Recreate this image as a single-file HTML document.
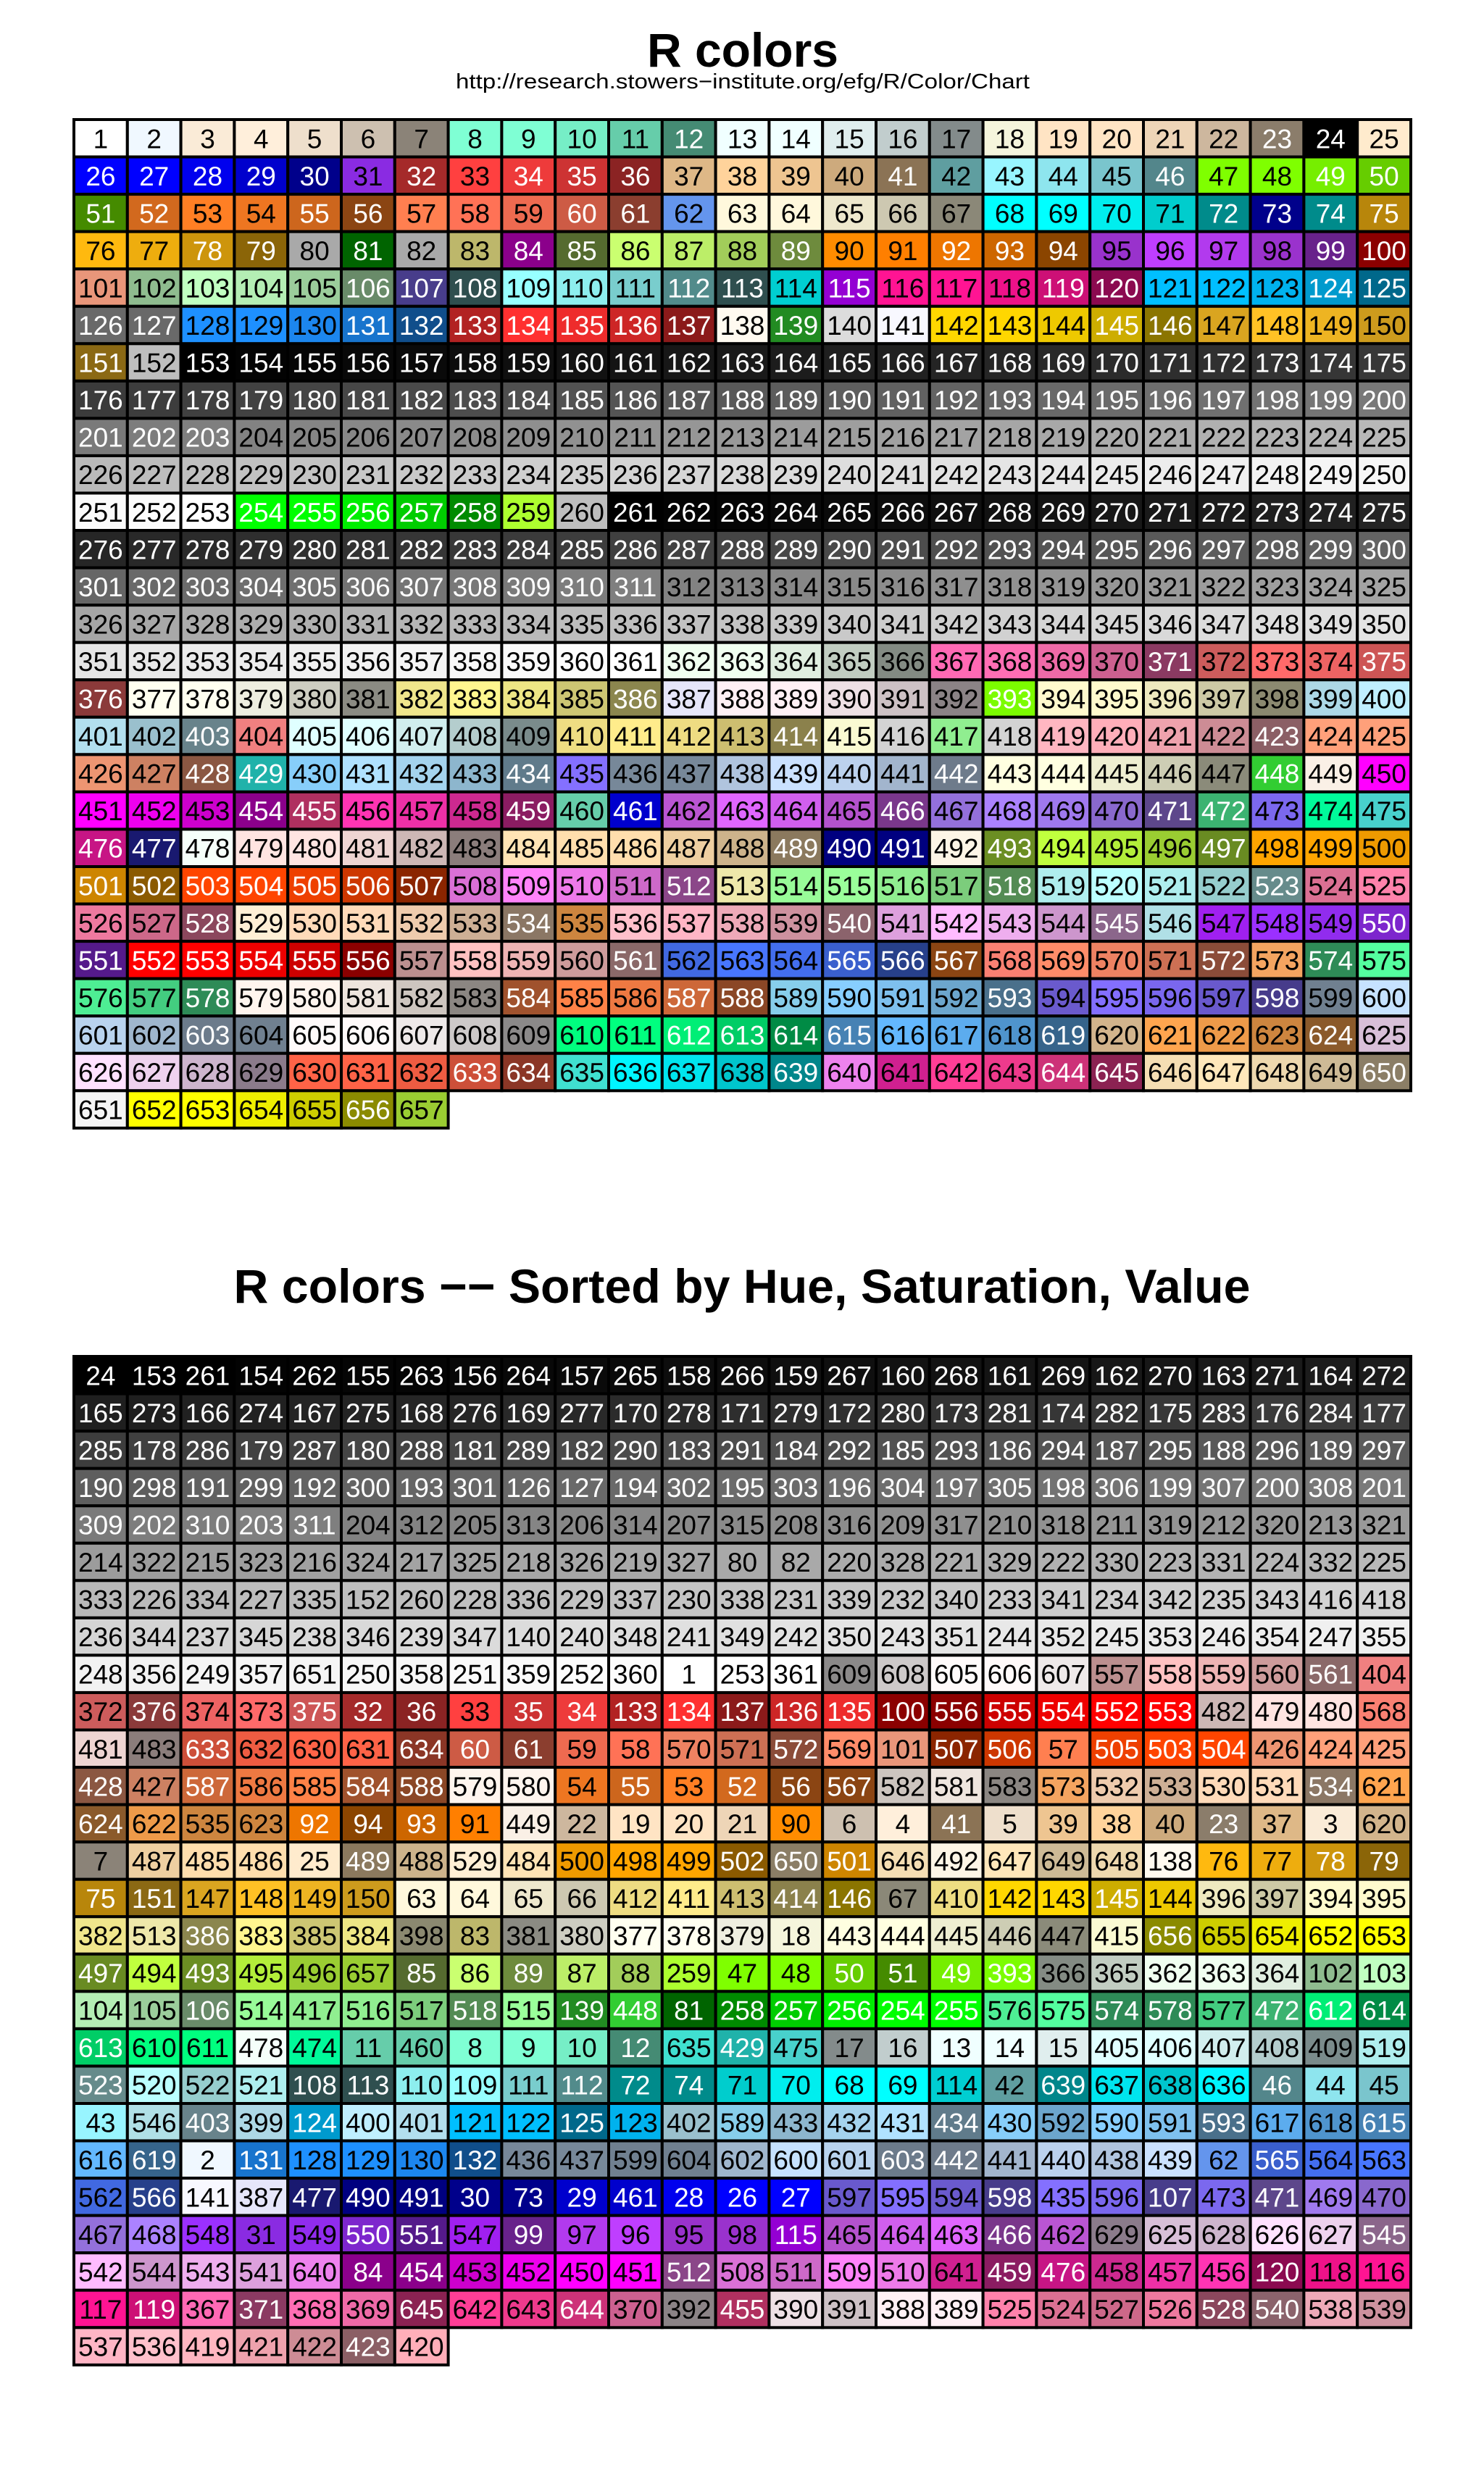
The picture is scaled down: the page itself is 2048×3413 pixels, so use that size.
<!DOCTYPE html>
<html><head><meta charset="utf-8"><title>R colors</title>
<style>html,body{margin:0;padding:0;background:#fff}svg{display:block}</style></head>
<body>
<svg id="chart" xmlns="http://www.w3.org/2000/svg" width="2048" height="3413" viewBox="0 0 2048 3413" font-family="Liberation Sans, Arial, sans-serif">
<rect x="0" y="0" width="2048" height="3413" fill="#fff"/>
<text x="1025" y="92" text-anchor="middle" font-size="66" font-weight="bold">R colors</text>
<text x="1025" y="122" text-anchor="middle" font-size="29" textLength="792" lengthAdjust="spacingAndGlyphs">http://research.stowers−institute.org/efg/R/Color/Chart</text>
<text x="1024" y="1798" text-anchor="middle" font-size="66" font-weight="bold" textLength="1403" lengthAdjust="spacingAndGlyphs">R colors −− Sorted by Hue, Saturation, Value</text>
<g id="grid1"></g>
<g id="grid2"></g>
</svg>
<script>
// Color data: R colors() hex values, indices 1..152
const hexPart1 = "FFFFFF F0F8FF FAEBD7 FFEFDB EEDFCC CDC0B0 8B8378 7FFFD4 7FFFD4 76EEC6 66CDAA 458B74 F0FFFF F0FFFF E0EEEE C1CDCD 838B8B F5F5DC FFE4C4 FFE4C4 EED5B7 CDB79E 8B7D6B 000000 FFEBCD 0000FF 0000FF 0000EE 0000CD 00008B 8A2BE2 A52A2A FF4040 EE3B3B CD3333 8B2323 DEB887 FFD39B EEC591 CDAA7D 8B7355 5F9EA0 98F5FF 8EE5EE 7AC5CD 53868B 7FFF00 7FFF00 76EE00 66CD00 458B00 D2691E FF7F24 EE7621 CD661D 8B4513 FF7F50 FF7256 EE6A50 CD5B45 8B3E2F 6495ED FFF8DC FFF8DC EEE8CD CDC8B1 8B8878 00FFFF 00FFFF 00EEEE 00CDCD 008B8B 00008B 008B8B B8860B FFB90F EEAD0E CD950C 8B6508 A9A9A9 006400 A9A9A9 BDB76B 8B008B 556B2F CAFF70 BCEE68 A2CD5A 6E8B3D FF8C00 FF7F00 EE7600 CD6600 8B4500 9932CC BF3EFF B23AEE 9A32CD 68228B 8B0000 E9967A 8FBC8F C1FFC1 B4EEB4 9BCD9B 698B69 483D8B 2F4F4F 97FFFF 8DEEEE 79CDCD 528B8B 2F4F4F 00CED1 9400D3 FF1493 FF1493 EE1289 CD1076 8B0A50 00BFFF 00BFFF 00B2EE 009ACD 00688B 696969 696969 1E90FF 1E90FF 1C86EE 1874CD 104E8B B22222 FF3030 EE2C2C CD2626 8B1A1A FFFAF0 228B22 DCDCDC F8F8FF FFD700 FFD700 EEC900 CDAD00 8B7500 DAA520 FFC125 EEB422 CD9B1D 8B6914 BEBEBE".split(" ");
// indices 254..260
const hexPart2 = "00FF00 00FF00 00EE00 00CD00 008B00 ADFF2F BEBEBE".split(" ");
// indices 362..657
const hexPart3 = "F0FFF0 F0FFF0 E0EEE0 C1CDC1 838B83 FF69B4 FF6EB4 EE6AA7 CD6090 8B3A62 CD5C5C FF6A6A EE6363 CD5555 8B3A3A FFFFF0 FFFFF0 EEEEE0 CDCDC1 8B8B83 F0E68C FFF68F EEE685 CDC673 8B864E E6E6FA FFF0F5 FFF0F5 EEE0E5 CDC1C5 8B8386 7CFC00 FFFACD FFFACD EEE9BF CDC9A5 8B8970 ADD8E6 BFEFFF B2DFEE 9AC0CD 68838B F08080 E0FFFF E0FFFF D1EEEE B4CDCD 7A8B8B EEDD82 FFEC8B EEDC82 CDBE70 8B814C FAFAD2 D3D3D3 90EE90 D3D3D3 FFB6C1 FFAEB9 EEA2AD CD8C95 8B5F65 FFA07A FFA07A EE9572 CD8162 8B5742 20B2AA 87CEFA B0E2FF A4D3EE 8DB6CD 607B8B 8470FF 778899 778899 B0C4DE CAE1FF BCD2EE A2B5CD 6E7B8B FFFFE0 FFFFE0 EEEED1 CDCDB4 8B8B7A 32CD32 FAF0E6 FF00FF FF00FF EE00EE CD00CD 8B008B B03060 FF34B3 EE30A7 CD2990 8B1C62 66CDAA 0000CD BA55D3 E066FF D15FEE B452CD 7A378B 9370DB AB82FF 9F79EE 8968CD 5D478B 3CB371 7B68EE 00FA9A 48D1CC C71585 191970 F5FFFA FFE4E1 FFE4E1 EED5D2 CDB7B5 8B7D7B FFE4B5 FFDEAD FFDEAD EECFA1 CDB38B 8B795E 000080 000080 FDF5E6 6B8E23 C0FF3E B3EE3A 9ACD32 698B22 FFA500 FFA500 EE9A00 CD8500 8B5A00 FF4500 FF4500 EE4000 CD3700 8B2500 DA70D6 FF83FA EE7AE9 CD69C9 8B4789 EEE8AA 98FB98 9AFF9A 90EE90 7CCD7C 548B54 AFEEEE BBFFFF AEEEEE 96CDCD 668B8B DB7093 FF82AB EE799F CD6889 8B475D FFEFD5 FFDAB9 FFDAB9 EECBAD CDAF95 8B7765 CD853F FFC0CB FFB5C5 EEA9B8 CD919E 8B636C DDA0DD FFBBFF EEAEEE CD96CD 8B668B B0E0E6 A020F0 9B30FF 912CEE 7D26CD 551A8B FF0000 FF0000 EE0000 CD0000 8B0000 BC8F8F FFC1C1 EEB4B4 CD9B9B 8B6969 4169E1 4876FF 436EEE 3A5FCD 27408B 8B4513 FA8072 FF8C69 EE8262 CD7054 8B4C39 F4A460 2E8B57 54FF9F 4EEE94 43CD80 2E8B57 FFF5EE FFF5EE EEE5DE CDC5BF 8B8682 A0522D FF8247 EE7942 CD6839 8B4726 87CEEB 87CEFF 7EC0EE 6CA6CD 4A708B 6A5ACD 836FFF 7A67EE 6959CD 473C8B 708090 C6E2FF B9D3EE 9FB6CD 6C7B8B 708090 FFFAFA FFFAFA EEE9E9 CDC9C9 8B8989 00FF7F 00FF7F 00EE76 00CD66 008B45 4682B4 63B8FF 5CACEE 4F94CD 36648B D2B48C FFA54F EE9A49 CD853F 8B5A2B D8BFD8 FFE1FF EED2EE CDB5CD 8B7B8B FF6347 FF6347 EE5C42 CD4F39 8B3626 40E0D0 00F5FF 00E5EE 00C5CD 00868B EE82EE D02090 FF3E96 EE3A8C CD3278 8B2252 F5DEB3 FFE7BA EED8AE CDBA96 8B7E66 F5F5F5 FFFF00 FFFF00 EEEE00 CDCD00 8B8B00 9ACD32".split(" ");
const grayLevels = [];
for (let i = 0; i <= 100; i++) grayLevels.push(i === 50 ? 127 : Math.round(i * 2.55));
function grayHex(v){ const h = v.toString(16).toUpperCase().padStart(2,"0"); return h+h+h; }
const colorHex = [].concat(hexPart1, grayLevels.map(grayHex), hexPart2, grayLevels.map(grayHex), hexPart3);
const colorIndex = colorHex.map((_, i) => i + 1);

const NCOL = 25;
const CELL_W = (1947 - 102) / NCOL;
const CELL_H = 51.55;
const GRID_X = 102;

function rgbOf(hex){ return [parseInt(hex.slice(0,2),16), parseInt(hex.slice(2,4),16), parseInt(hex.slice(4,6),16)]; }
function hsvOf(hex){
  const [r,g,b] = rgbOf(hex).map(v => v/255);
  const mx = Math.max(r,g,b), mn = Math.min(r,g,b), d = mx - mn;
  let h = 0;
  if (d > 0) {
    if (mx === r) h = ((g - b) / d) / 6;
    else if (mx === g) h = (2 + (b - r) / d) / 6;
    else h = (4 + (r - g) / d) / 6;
    if (h < 0) h += 1;
  }
  return [h, mx > 0 ? d / mx : 0, mx];
}
const sortedIndex = colorIndex.slice().sort((a, b) => {
  const A = hsvOf(colorHex[a-1]), B = hsvOf(colorHex[b-1]);
  return (A[0]-B[0]) || (A[1]-B[1]) || (A[2]-B[2]) || (a-b);
});

const NS = "http://www.w3.org/2000/svg";
function drawGrid(gid, order, y0){
  const g = document.getElementById(gid);
  order.forEach((idx, k) => {
    const col = k % NCOL, row = Math.floor(k / NCOL);
    const x = GRID_X + col * CELL_W, y = y0 + row * CELL_H;
    const hex = colorHex[idx-1];
    const rgb = rgbOf(hex);
    const mean = (rgb[0]+rgb[1]+rgb[2]) / 3;
    const rect = document.createElementNS(NS, "rect");
    rect.setAttribute("x", x); rect.setAttribute("y", y);
    rect.setAttribute("width", CELL_W); rect.setAttribute("height", CELL_H);
    rect.setAttribute("fill", "#" + hex);
    rect.setAttribute("stroke", "#000"); rect.setAttribute("stroke-width", "4");
    
    
    g.appendChild(rect);
    const t = document.createElementNS(NS, "text");
    t.setAttribute("x", x + CELL_W/2); t.setAttribute("y", y + CELL_H/2 + 13.5);
    t.setAttribute("text-anchor", "middle"); t.setAttribute("font-size", "37");
    t.setAttribute("fill", mean > 127 ? "#000" : "#fff");
    t.textContent = idx;
    
    
    g.appendChild(t);
  });
}
drawGrid("grid1", colorIndex, 165);
drawGrid("grid2", sortedIndex, 1872);
</script>
</body></html>
